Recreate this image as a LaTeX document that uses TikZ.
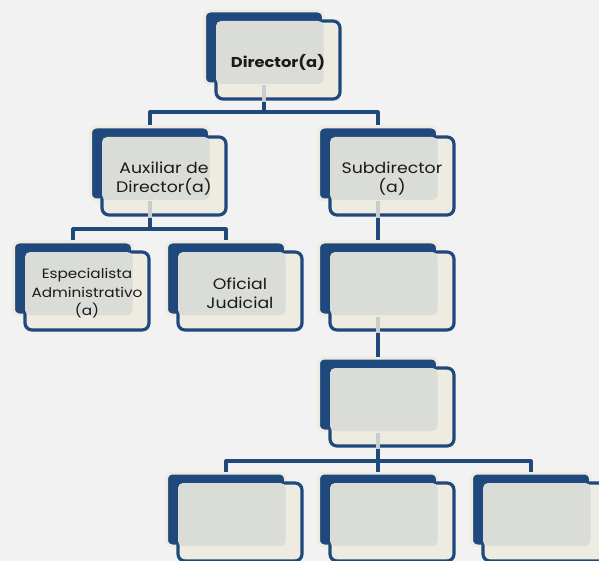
\documentclass[tikz,border=0pt]{standalone}
\usepackage{fontspec}
\setmainfont{Poppins}[FakeStretch=1.14]
\definecolor{navy}{HTML}{1F497D}
\definecolor{creme}{HTML}{EEECE1}
\definecolor{paper}{HTML}{F2F2F2}
\definecolor{veil}{HTML}{DADCD8}
\definecolor{stubgray}{HTML}{C9CDCD}
\definecolor{ink}{HTML}{1A1A1A}
\tikzset{
  backbox/.style={rectangle, rounded corners=6pt, minimum width=119pt, minimum height=73pt,
    inner sep=0pt, fill=navy, draw=creme, line width=3pt},
  frontbox/.style={rectangle, rounded corners=7pt, minimum width=124pt, minimum height=78pt,
    inner sep=0pt, fill=creme, draw=navy, line width=3.2pt},
  veilbox/.style={fill=veil, rounded corners=5pt},
  caption/.style={text=ink, align=center, inner sep=0pt, yshift=-2.5pt},
  link/.style={draw=navy, line width=3.2pt, line join=round},
  stub/.style={draw=stubgray, line width=3.2pt},
}
% back card: name, left, top
\newcommand{\cardback}[3]{\node[backbox] (#1B) at ({#2+60},{#3+37.5}) {};}
% front card with its shaded overlap and caption: name, left, top, text
\newcommand{\cardfront}[5][]{%
  \node[frontbox] (#2F) at ({#3+74},{#4+50}) {};
  \fill[veilbox] ([shift={(1.6,1.6)}]#2F.north west) rectangle ([shift={(-1.5,-1.5)}]#2B.south east);
  \node[caption, font=#1] (#2) at (#2F.center) {#5};}
\newcommand{\cardstub}[1]{\draw[stub] (#1B.south) -- ([yshift=-1.6pt]#1B.south |- #1F.south);}
\begin{document}
\begin{tikzpicture}[x=1pt,y=-1pt]
\fill[paper] (0,0) rectangle (599,561);
\useasboundingbox (0,0) rectangle (599,561);
% back cards
\cardback{d}{204}{10}
\cardback{a}{90}{126}
\cardback{s}{318}{126}
\cardback{e}{13}{241}
\cardback{o}{166}{241}
\cardback{r}{318}{241}
\cardback{m}{318}{357}
\cardback{p}{166}{472}
\cardback{q}{318}{472}
\cardback{t}{471}{472}
% junction heights
\coordinate (j1) at (0,112);
\coordinate (j2) at (0,229);
\coordinate (j3) at (0,461);
% connectors
\draw[link] (dB.south) -- (dB.south |- j1);
\draw[link] (aB.north) -- (aB.north |- j1) -- (sB.north |- j1) -- (sB.north);
\draw[link] (aB.south) -- (aB.south |- j2);
\draw[link] (eB.north) -- (eB.north |- j2) -- (oB.north |- j2) -- (oB.north);
\draw[link] (sB.south) -- (rB.north);
\draw[link] (rB.south) -- (mB.north);
\draw[link] (mB.south) -- (mB.south |- j3);
\draw[link] (pB.north) -- (pB.north |- j3) -- (tB.north |- j3) -- (tB.north);
\draw[link] (qB.north) -- (qB.north |- j3);
% front cards
\cardfront[\fontsize{14.3}{17}\selectfont\bfseries]{d}{204}{10}{Director(a)}
\cardfront[\fontsize{15.2}{19.5}\selectfont]{a}{90}{126}{Auxiliar de\\Director(a)}
\cardfront[\fontsize{15.2}{19.5}\selectfont]{s}{318}{126}{Subdirector\\(a)}
\cardfront[\fontsize{13.4}{18.5}\selectfont]{e}{13}{241}{Especialista\\Administrativo\\(a)}
\cardfront[\fontsize{15.2}{19.5}\selectfont]{o}{166}{241}{Oficial\\Judicial}
\cardfront{r}{318}{241}{}
\cardfront{m}{318}{357}{}
\cardfront{p}{166}{472}{}
\cardfront{q}{318}{472}{}
\cardfront{t}{471}{472}{}
% connector traces seen through the front cards
\cardstub{d}
\cardstub{a}
\cardstub{s}
\cardstub{r}
\cardstub{m}
\end{tikzpicture}
\end{document}
